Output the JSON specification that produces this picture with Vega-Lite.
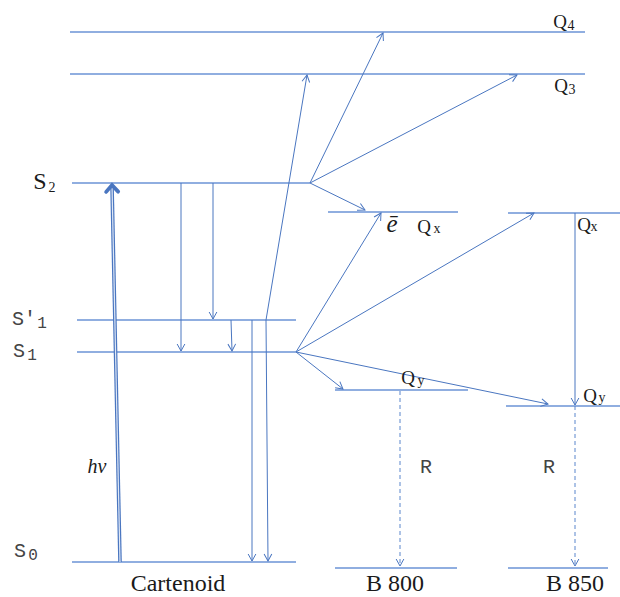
{
  "$schema": "https://vega.github.io/schema/vega-lite/v6.json",
  "width": 620,
  "height": 597,
  "padding": 0,
  "autosize": {"type": "none"},
  "background": "white",
  "config": {"view": {"stroke": null}},
  "datasets": {
    "levels": [
      {"x1": 70, "x2": 585, "y": 32},
      {"x1": 70, "x2": 585, "y": 74},
      {"x1": 72, "x2": 310, "y": 183},
      {"x1": 328, "x2": 458, "y": 212},
      {"x1": 508, "x2": 620, "y": 213},
      {"x1": 77, "x2": 296, "y": 320},
      {"x1": 77, "x2": 296, "y": 352},
      {"x1": 335, "x2": 468, "y": 390},
      {"x1": 506, "x2": 620, "y": 406},
      {"x1": 72, "x2": 296, "y": 562},
      {"x1": 335, "x2": 457, "y": 568},
      {"x1": 508, "x2": 608, "y": 568}
    ],
    "arrows": [
      {"kind": "thick", "x1": 120, "y1": 562, "x2": 112, "y2": 185},
      {"kind": "solid", "x1": 181, "y1": 183, "x2": 181, "y2": 351},
      {"kind": "solid", "x1": 213, "y1": 183, "x2": 213, "y2": 319},
      {"kind": "solid", "x1": 231, "y1": 320, "x2": 232, "y2": 351},
      {"kind": "solid", "x1": 252, "y1": 320, "x2": 252, "y2": 561},
      {"kind": "solid", "x1": 266, "y1": 320, "x2": 268, "y2": 561},
      {"kind": "solid", "x1": 266, "y1": 320, "x2": 307, "y2": 75},
      {"kind": "solid", "x1": 310, "y1": 183, "x2": 383, "y2": 33},
      {"kind": "solid", "x1": 310, "y1": 183, "x2": 517, "y2": 75},
      {"kind": "solid", "x1": 310, "y1": 183, "x2": 365, "y2": 210},
      {"kind": "solid", "x1": 296, "y1": 352, "x2": 381, "y2": 213},
      {"kind": "solid", "x1": 296, "y1": 352, "x2": 534, "y2": 213},
      {"kind": "solid", "x1": 296, "y1": 352, "x2": 343, "y2": 389},
      {"kind": "solid", "x1": 296, "y1": 352, "x2": 548, "y2": 404},
      {"kind": "solid", "x1": 575, "y1": 213, "x2": 575, "y2": 405},
      {"kind": "dashed", "x1": 400, "y1": 391, "x2": 400, "y2": 566},
      {"kind": "dashed", "x1": 575, "y1": 406, "x2": 575, "y2": 566}
    ],
    "labels": [
      {"group": "serif", "x": 178, "y": 584, "text": "Cartenoid"},
      {"group": "serif", "x": 395, "y": 584, "text": "B 800"},
      {"group": "serif", "x": 575, "y": 584, "text": "B 850"},
      {"group": "big", "x": 40, "y": 182, "text": "S"},
      {"group": "q", "x": 560, "y": 22, "text": "Q"},
      {"group": "q", "x": 561, "y": 86, "text": "Q"},
      {"group": "q", "x": 424, "y": 227, "text": "Q"},
      {"group": "q", "x": 584, "y": 225, "text": "Q"},
      {"group": "q", "x": 408, "y": 378, "text": "Q"},
      {"group": "q", "x": 590, "y": 396, "text": "Q"},
      {"group": "sub", "x": 52, "y": 188, "text": "2"},
      {"group": "sub", "x": 571, "y": 26, "text": "4"},
      {"group": "sub", "x": 572, "y": 90, "text": "3"},
      {"group": "sub", "x": 437, "y": 229, "text": "x"},
      {"group": "sub", "x": 594, "y": 227, "text": "x"},
      {"group": "sub", "x": 421, "y": 381, "text": "y"},
      {"group": "sub", "x": 602, "y": 398, "text": "y"},
      {"group": "mono", "x": 24, "y": 319, "text": "S′"},
      {"group": "mono", "x": 19, "y": 351, "text": "S"},
      {"group": "mono", "x": 20, "y": 551, "text": "S"},
      {"group": "mono", "x": 426, "y": 467, "text": "R"},
      {"group": "mono", "x": 549, "y": 467, "text": "R"},
      {"group": "monosub", "x": 42, "y": 323, "text": "1"},
      {"group": "monosub", "x": 32, "y": 355, "text": "1"},
      {"group": "monosub", "x": 33, "y": 555, "text": "0"},
      {"group": "italic", "x": 97, "y": 467, "text": "hν"},
      {"group": "italicbig", "x": 392, "y": 224, "text": "ē"}
    ]
  },
  "encoding": {
    "x": {"type": "quantitative", "scale": {"domain": [0, 620], "nice": false, "zero": false}, "axis": null},
    "y": {"type": "quantitative", "scale": {"domain": [0, 597], "reverse": true, "nice": false, "zero": false}, "axis": null}
  },
  "layer": [
    {
      "data": {"name": "levels"},
      "mark": {"type": "rule", "color": "#6b93d6", "strokeWidth": 1.4},
      "encoding": {
        "x": {"field": "x1", "type": "quantitative"},
        "x2": {"field": "x2"},
        "y": {"field": "y", "type": "quantitative"}
      }
    },
    {
      "data": {"name": "arrows"},
      "transform": [{"filter": "datum.kind == 'solid'"}],
      "mark": {"type": "rule", "color": "#4a76c0", "strokeWidth": 1},
      "encoding": {
        "x": {"field": "x1", "type": "quantitative"},
        "y": {"field": "y1", "type": "quantitative"},
        "x2": {"field": "x2"},
        "y2": {"field": "y2"}
      }
    },
    {
      "data": {"name": "arrows"},
      "transform": [{"filter": "datum.kind == 'dashed'"}],
      "mark": {"type": "rule", "color": "#5a86cc", "strokeWidth": 1, "strokeDash": [4, 3]},
      "encoding": {
        "x": {"field": "x1", "type": "quantitative"},
        "y": {"field": "y1", "type": "quantitative"},
        "x2": {"field": "x2"},
        "y2": {"field": "y2"}
      }
    },
    {
      "data": {"name": "arrows"},
      "transform": [{"filter": "datum.kind == 'thick'"}],
      "mark": {"type": "rule", "color": "#4a76c0", "strokeWidth": 3.6},
      "encoding": {
        "x": {"field": "x1", "type": "quantitative"},
        "y": {"field": "y1", "type": "quantitative"},
        "x2": {"field": "x2"},
        "y2": {"field": "y2"}
      }
    },
    {
      "data": {"name": "arrows"},
      "transform": [{"filter": "datum.kind == 'thick'"}],
      "mark": {"type": "rule", "color": "#dfe8f6", "strokeWidth": 1.2},
      "encoding": {
        "x": {"field": "x1", "type": "quantitative"},
        "y": {"field": "y1", "type": "quantitative"},
        "x2": {"field": "x2"},
        "y2": {"field": "y2"}
      }
    },
    {
      "data": {"name": "arrows"},
      "transform": [
        {"filter": "datum.kind != 'thick'"},
        {"calculate": "atan2(datum.x2 - datum.x1, datum.y1 - datum.y2) * 180 / PI", "as": "ang"}
      ],
      "mark": {"type": "point", "shape": "M-0.55,1L0,0L0.55,1", "filled": false, "opacity": 1, "color": "#4a76c0", "strokeWidth": 1, "size": 196},
      "encoding": {
        "x": {"field": "x2", "type": "quantitative"},
        "y": {"field": "y2", "type": "quantitative"},
        "angle": {"field": "ang", "type": "quantitative", "scale": null}
      }
    },
    {
      "data": {"name": "arrows"},
      "transform": [
        {"filter": "datum.kind == 'thick'"},
        {"calculate": "atan2(datum.x2 - datum.x1, datum.y1 - datum.y2) * 180 / PI", "as": "ang"}
      ],
      "mark": {"type": "point", "shape": "M-0.8,0.9L0,0L0.8,0.9", "filled": false, "opacity": 1, "color": "#4a76c0", "strokeWidth": 3.8, "strokeCap": "round", "strokeJoin": "miter", "size": 225},
      "encoding": {
        "x": {"field": "x2", "type": "quantitative"},
        "y": {"field": "y2", "type": "quantitative"},
        "angle": {"field": "ang", "type": "quantitative", "scale": null}
      }
    },
    {
      "data": {"name": "labels"},
      "transform": [{"filter": "datum.group == 'serif'"}],
      "mark": {"type": "text", "font": "Liberation Serif", "fontSize": 24, "align": "center", "baseline": "middle", "color": "#1a1a1a"},
      "encoding": {
        "x": {"field": "x", "type": "quantitative"},
        "y": {"field": "y", "type": "quantitative"},
        "text": {"field": "text"}
      }
    },
    {
      "data": {"name": "labels"},
      "transform": [{"filter": "datum.group == 'big'"}],
      "mark": {"type": "text", "font": "Liberation Serif", "fontSize": 24, "align": "center", "baseline": "middle", "color": "#1a1a1a"},
      "encoding": {
        "x": {"field": "x", "type": "quantitative"},
        "y": {"field": "y", "type": "quantitative"},
        "text": {"field": "text"}
      }
    },
    {
      "data": {"name": "labels"},
      "transform": [{"filter": "datum.group == 'q'"}],
      "mark": {"type": "text", "font": "Liberation Serif", "fontSize": 19, "align": "center", "baseline": "middle", "color": "#1a1a1a"},
      "encoding": {
        "x": {"field": "x", "type": "quantitative"},
        "y": {"field": "y", "type": "quantitative"},
        "text": {"field": "text"}
      }
    },
    {
      "data": {"name": "labels"},
      "transform": [{"filter": "datum.group == 'sub'"}],
      "mark": {"type": "text", "font": "Liberation Serif", "fontSize": 14, "align": "center", "baseline": "middle", "color": "#1a1a1a"},
      "encoding": {
        "x": {"field": "x", "type": "quantitative"},
        "y": {"field": "y", "type": "quantitative"},
        "text": {"field": "text"}
      }
    },
    {
      "data": {"name": "labels"},
      "transform": [{"filter": "datum.group == 'mono'"}],
      "mark": {"type": "text", "font": "Liberation Mono", "fontSize": 20, "align": "center", "baseline": "middle", "color": "#444444"},
      "encoding": {
        "x": {"field": "x", "type": "quantitative"},
        "y": {"field": "y", "type": "quantitative"},
        "text": {"field": "text"}
      }
    },
    {
      "data": {"name": "labels"},
      "transform": [{"filter": "datum.group == 'monosub'"}],
      "mark": {"type": "text", "font": "Liberation Mono", "fontSize": 16, "align": "center", "baseline": "middle", "color": "#444444"},
      "encoding": {
        "x": {"field": "x", "type": "quantitative"},
        "y": {"field": "y", "type": "quantitative"},
        "text": {"field": "text"}
      }
    },
    {
      "data": {"name": "labels"},
      "transform": [{"filter": "datum.group == 'italic'"}],
      "mark": {"type": "text", "font": "Liberation Serif", "fontStyle": "italic", "fontSize": 20, "align": "center", "baseline": "middle", "color": "#1a1a1a"},
      "encoding": {
        "x": {"field": "x", "type": "quantitative"},
        "y": {"field": "y", "type": "quantitative"},
        "text": {"field": "text"}
      }
    },
    {
      "data": {"name": "labels"},
      "transform": [{"filter": "datum.group == 'italicbig'"}],
      "mark": {"type": "text", "font": "Liberation Serif", "fontStyle": "italic", "fontSize": 25, "align": "center", "baseline": "middle", "color": "#1a1a1a"},
      "encoding": {
        "x": {"field": "x", "type": "quantitative"},
        "y": {"field": "y", "type": "quantitative"},
        "text": {"field": "text"}
      }
    }
  ]
}
